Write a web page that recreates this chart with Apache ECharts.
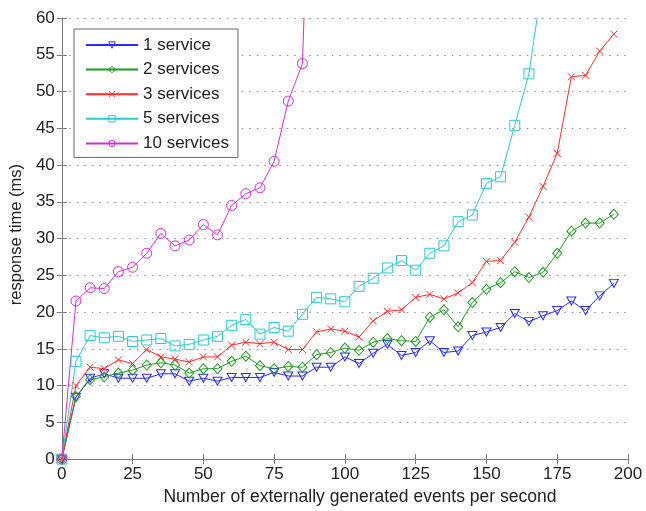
<!DOCTYPE html>
<html>
<head>
<meta charset="utf-8">
<script src="https://cdn.jsdelivr.net/npm/echarts@6/dist/echarts.min.js"></script>
<style>
  html, body { margin: 0; padding: 0; background: #fff; }
  #chart { width: 646px; height: 511px; }
</style>
</head>
<body>
<div id="chart"></div>
<script>
// Event rate (events per second) at which response time was measured
const rates = [0, 5, 10, 15, 20, 25, 30, 35, 40, 45, 50, 55, 60, 65, 70, 75, 80, 85, 90, 95,
               100, 105, 110, 115, 120, 125, 130, 135, 140, 145, 150, 155, 160, 165, 170, 175, 180, 185, 190, 195];

// Mean response time (ms) for each deployment size
const oneService = [0, 8.4, 11.0, 11.6, 11.0, 11.0, 11.0, 11.6, 11.6, 10.6, 11.0, 10.6, 11.1, 11.1, 11.1, 11.8, 11.3, 11.3, 12.5, 12.5,
                    13.9, 13.0, 14.4, 15.6, 14.1, 14.5, 16.1, 14.5, 14.7, 16.8, 17.3, 17.9, 19.8, 18.7, 19.5, 20.2, 21.5, 20.2, 22.2, 23.9];
const twoServices = [0, 8.5, 10.8, 11.2, 11.7, 12.1, 12.8, 13.1, 12.8, 11.7, 12.3, 12.3, 13.3, 14.0, 12.7, 12.3, 12.6, 12.5, 14.2, 14.5,
                     15.1, 14.8, 15.9, 16.4, 16.1, 16.0, 19.3, 20.3, 18.0, 21.3, 23.1, 24.0, 25.5, 24.7, 25.4, 28.0, 31.0, 32.1, 32.1, 33.3];
const threeServices = [0, 10.0, 12.5, 12.3, 13.5, 13.0, 14.9, 13.9, 13.6, 13.2, 13.9, 13.9, 15.5, 15.9, 15.7, 15.9, 14.9, 14.9, 17.3, 17.7,
                       17.4, 16.6, 18.8, 20.1, 20.3, 22.0, 22.4, 21.8, 22.6, 24.0, 26.9, 27.0, 29.5, 32.9, 37.1, 41.6, 52.0, 52.2, 55.5, 57.8];
const fiveServices = [0, 13.3, 16.8, 16.5, 16.7, 16.0, 16.2, 16.4, 15.4, 15.6, 16.2, 16.7, 18.2, 19.0, 17.0, 17.9, 17.4, 19.7, 22.0, 21.8,
                      21.4, 23.5, 24.6, 26.0, 27.0, 25.7, 28.0, 29.0, 32.3, 33.2, 37.5, 38.4, 45.4, 52.4, 65.5];
const tenServices = [0, 21.5, 23.3, 23.2, 25.5, 26.1, 28.0, 30.7, 29.0, 29.8, 31.9, 30.5, 34.5, 36.1, 36.9, 40.5, 48.7, 53.8, 110];

const seriesNames = ['1 service', '2 services', '3 services', '5 services', '10 services'];

const FONT = '"Liberation Sans", Arial, Helvetica, sans-serif';
const FRAME = '#7a7a7a';
const HOLLOW = 'rgba(255,255,255,0)';

function lineSeries(name, values, color, symbol, size, rotate) {
  return {
    name: name,
    type: 'line',
    data: values.map((v, i) => [rates[i], v]),
    color: color,
    symbol: symbol,
    symbolSize: size,
    symbolRotate: rotate || 0,
    showAllSymbol: true,
    clip: true,
    lineStyle: { color: color, width: 1 },
    itemStyle: { color: HOLLOW, borderColor: color, borderWidth: 1 },
    emphasis: { disabled: true }
  };
}

const axisLabelStyle = { color: '#222', fontSize: 17, fontFamily: FONT };

const option = {
  animation: false,
  backgroundColor: '#fff',
  grid: { left: 60, right: 18, top: 18, bottom: 45, containLabel: false },
  legend: {
    orient: 'vertical',
    left: 74,
    top: 29,
    padding: [6, 9, 4, 11],
    itemWidth: 52,
    itemHeight: 8,
    itemGap: 4.6,
    borderColor: '#666',
    borderWidth: 1,
    backgroundColor: '#fff',
    itemStyle: { color: HOLLOW, borderWidth: 1 },
    textStyle: { color: '#222', fontSize: 17, fontFamily: FONT, lineHeight: 20 },
    data: seriesNames
  },
  xAxis: [
    {
      type: 'value', min: 0, max: 200, interval: 25, position: 'bottom',
      name: 'Number of externally generated events per second',
      nameLocation: 'middle', nameGap: 25,
      nameTextStyle: { color: '#222', fontSize: 17.5, fontFamily: FONT, padding: [0, 0, 0, 30] },
      axisLine: { show: true, lineStyle: { color: FRAME, width: 1 } },
      axisTick: { show: true, inside: true, length: 5, lineStyle: { color: FRAME } },
      axisLabel: Object.assign({ margin: 7 }, axisLabelStyle),
      splitLine: { show: false }
    },
    {
      type: 'value', min: 0, max: 200, interval: 25, position: 'top',
      axisLine: { show: true, lineStyle: { color: FRAME, width: 1 } },
      axisTick: { show: true, inside: true, length: 5, lineStyle: { color: FRAME } },
      axisLabel: { show: false },
      splitLine: { show: false }
    }
  ],
  yAxis: [
    {
      type: 'value', min: 0, max: 60, interval: 5, position: 'left',
      name: 'response time (ms)',
      nameLocation: 'middle', nameGap: 32,
      nameTextStyle: { color: '#222', fontSize: 16.5, fontFamily: FONT, padding: [0, 0, 0, 8] },
      axisLine: { show: true, lineStyle: { color: FRAME, width: 1 } },
      axisTick: { show: true, inside: true, length: 5, lineStyle: { color: FRAME } },
      axisLabel: Object.assign({ margin: 7 }, axisLabelStyle),
      splitLine: { show: true, lineStyle: { color: '#8f8f8f', width: 1, type: [1.5, 6] } }
    },
    {
      type: 'value', min: 0, max: 60, interval: 5, position: 'right',
      axisLine: { show: true, lineStyle: { color: FRAME, width: 1 } },
      axisTick: { show: true, inside: true, length: 5, lineStyle: { color: FRAME } },
      axisLabel: { show: false },
      splitLine: { show: false }
    }
  ],
  series: [
    lineSeries(seriesNames[0], oneService, '#2b2bff', 'triangle', [9, 8], 180),
    lineSeries(seriesNames[1], twoServices, '#1f9a1f', 'diamond', [9, 10]),
    lineSeries(seriesNames[2], threeServices, '#ff2a2a', 'path://M0,0L10,10M10,0L0,10', 7),
    lineSeries(seriesNames[3], fiveServices, '#2ccaca', 'rect', 10),
    lineSeries(seriesNames[4], tenServices, '#d22ed2', 'circle', 10)
  ]
};

const chart = echarts.init(document.getElementById('chart'), null, { renderer: 'canvas' });
chart.setOption(option);
</script>
</body>
</html>
